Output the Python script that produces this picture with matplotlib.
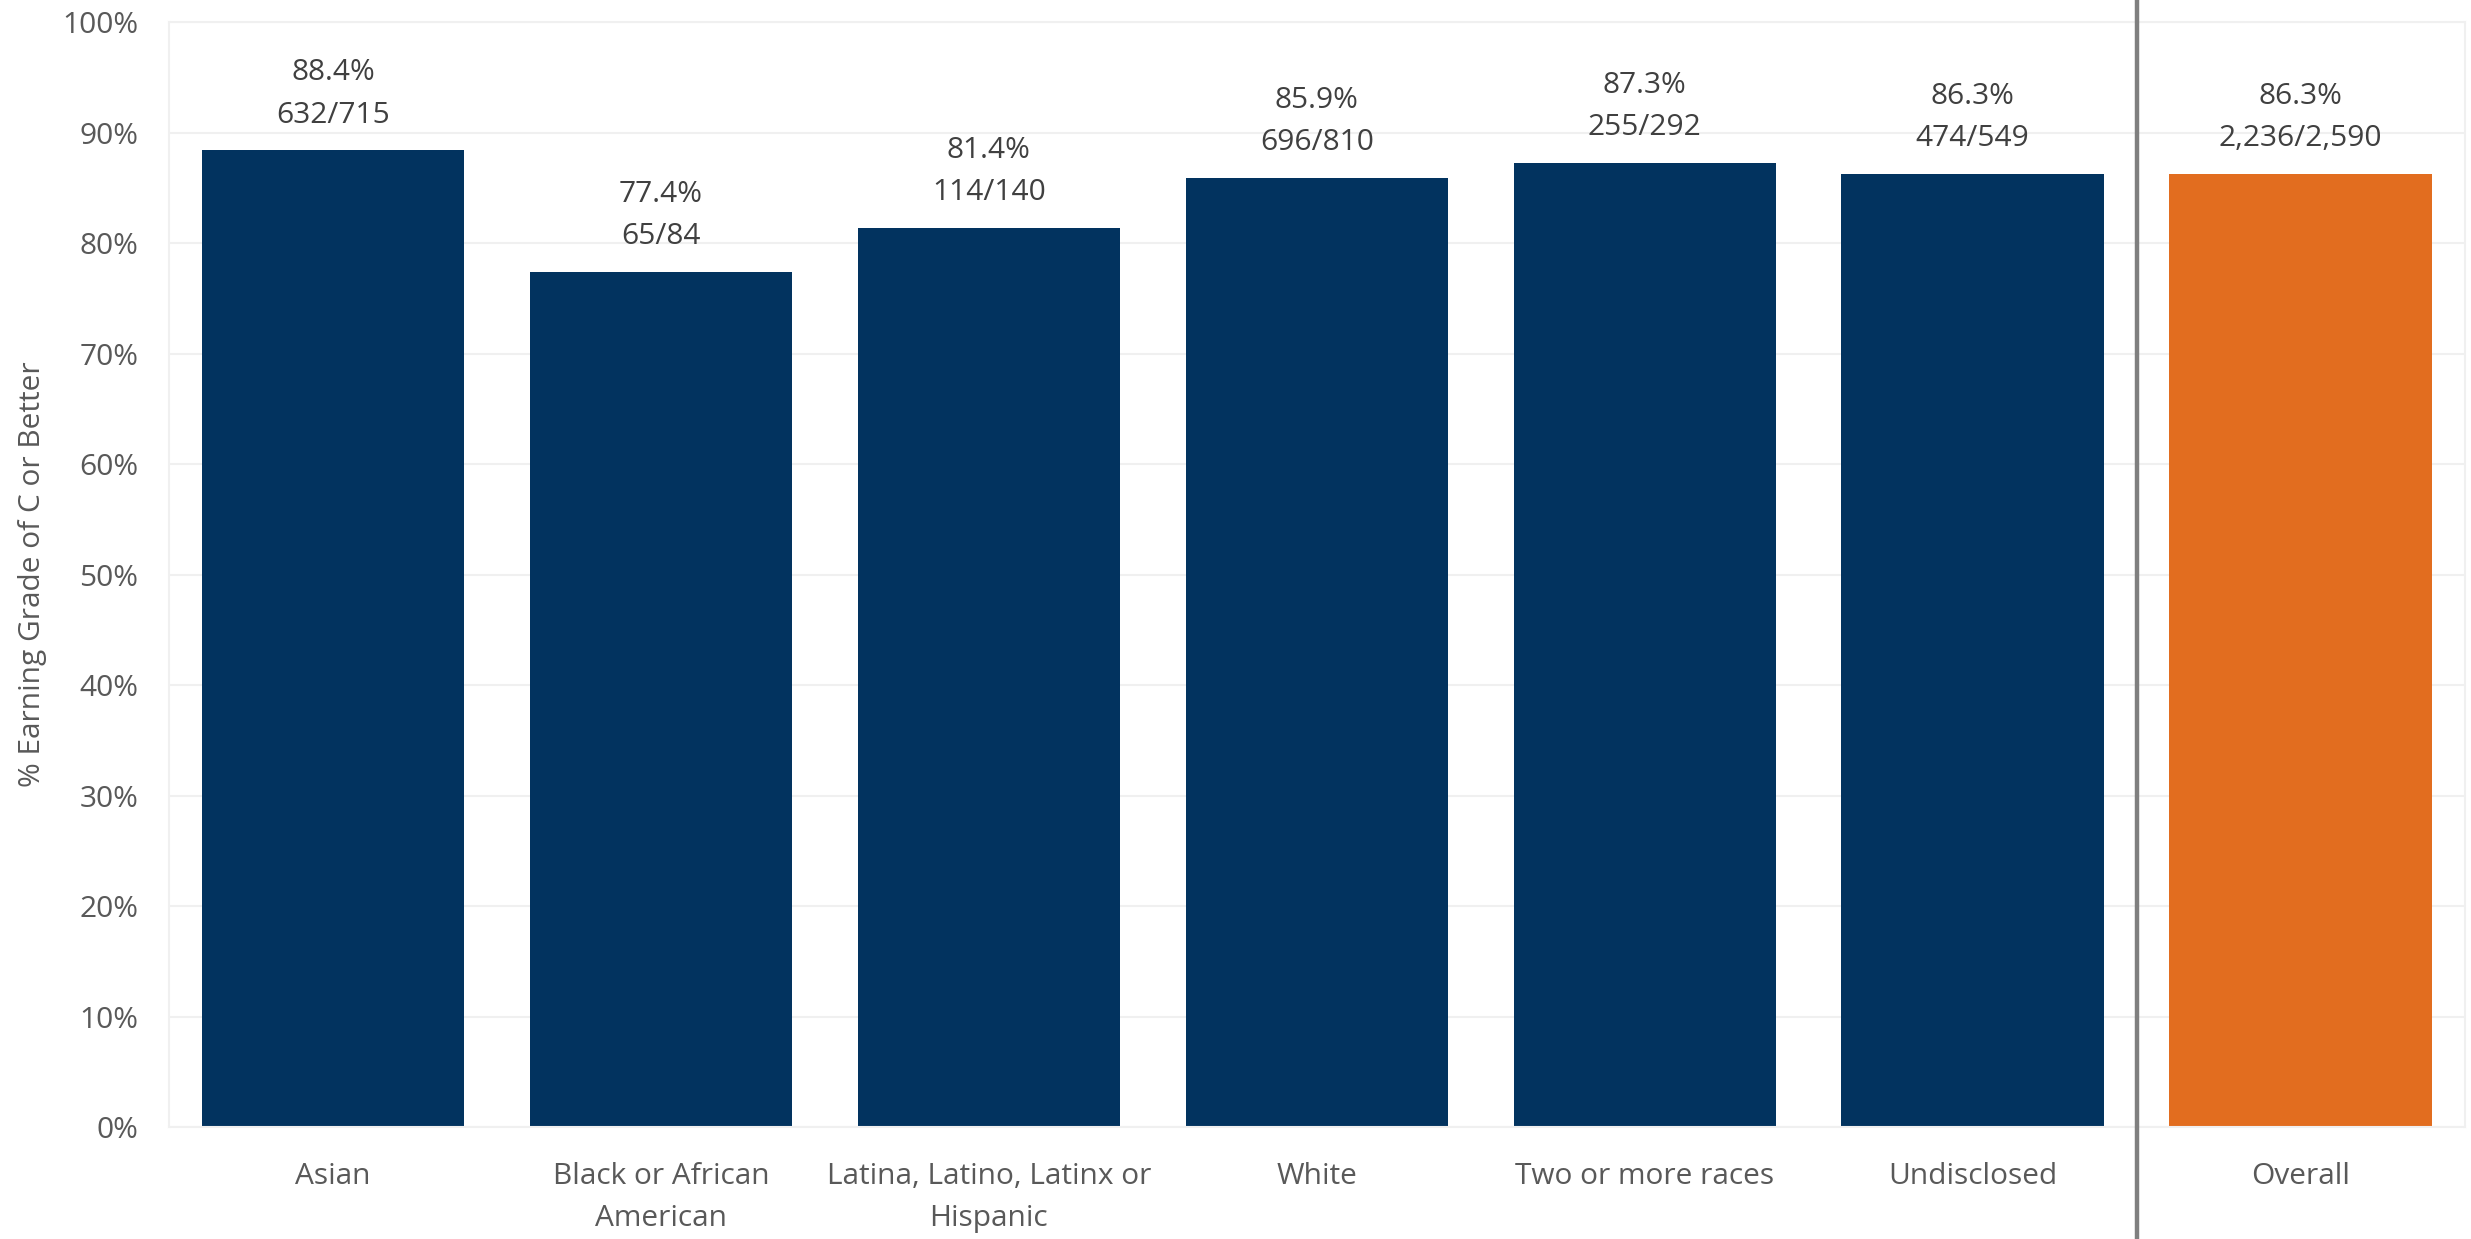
import matplotlib.pyplot as plt
from matplotlib.lines import Line2D

plt.rcParams['font.family'] = ['Open Sans', 'DejaVu Sans']

# Data
categories = ['Asian', 'Black or African\nAmerican', 'Latina, Latino, Latinx or\nHispanic',
              'White', 'Two or more races', 'Undisclosed', 'Overall']
pct = [88.4, 77.4, 81.4, 85.9, 87.3, 86.3, 86.3]
passed = ['632', '65', '114', '696', '255', '474', '2,236']
total = ['715', '84', '140', '810', '292', '549', '2,590']

navy = '#02335F'
orange = '#E26D1F'
colors = [navy] * 6 + [orange]

fig = plt.figure(figsize=(24.71, 12.39), dpi=100)
ax = fig.add_axes([0.0684, 0.0904, 0.9290, 0.8916])

x = list(range(len(categories)))
ax.bar(x, pct, width=0.8, color=colors, zorder=2)

# Data labels: percent on top, count below
for xi, p, a, b in zip(x, pct, passed, total):
    ax.annotate(f'{p:.1f}%\n{a}/{b}', (xi, p), xytext=(0, 15), textcoords='offset points',
                ha='center', va='bottom', fontsize=21.5, color='#404040', linespacing=1.6)

ax.set_xlim(-0.5, len(categories) - 0.5)
ax.set_ylim(0, 100)
ax.set_yticks(range(0, 101, 10))
ax.set_yticklabels([f'{t}%' for t in range(0, 101, 10)])
ax.set_xticks(x)
ax.set_xticklabels(categories, linespacing=1.6)
ax.tick_params(axis='both', length=0, labelsize=21.5, labelcolor='#595959')
ax.tick_params(axis='x', pad=25)
ax.tick_params(axis='y', pad=22)
ax.grid(axis='y', color='#F0F0F0', linewidth=1.5, zorder=0)
for s in ax.spines.values():
    s.set_color('#F0F0F0')
    s.set_linewidth(1.5)

ax.set_ylabel('% Earning Grade of C or Better', fontsize=21.5, color='#595959', labelpad=11)

# Separator between groups and overall
sep_x = fig.transFigure.inverted().transform(ax.transData.transform((5.5, 0)))[0]
fig.add_artist(Line2D([sep_x, sep_x], [0, 1], transform=fig.transFigure,
                      color='#7F7F7F', linewidth=3.2))

fig.savefig('out.png', dpi=100)
